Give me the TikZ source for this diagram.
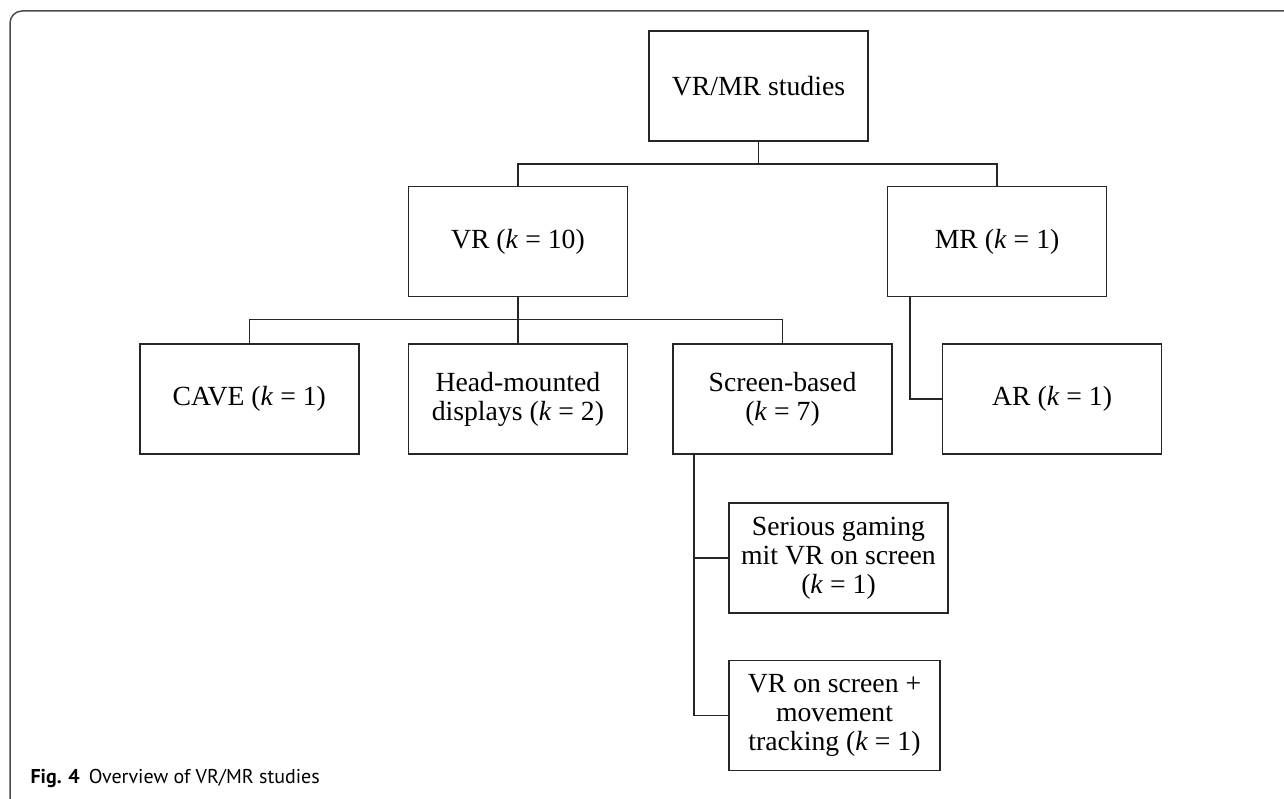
\documentclass[tikz,border=0pt]{standalone}
\usepackage{fontspec}
\setmainfont{Liberation Serif}
\newfontfamily\captionsans{PT Sans}
\usetikzlibrary{positioning, calc}

\begin{document}
\begin{tikzpicture}[
            x=1pt,
            y=1pt,
            node distance=46pt and 46pt,
            category/.style={
				rectangle,
				minimum width=219pt,
				minimum height=110pt,
				inner sep=4pt,
				align=center,
				draw=black!85,
				line width=1.6pt,
				font=\fontsize{27.7pt}{29pt}\selectfont
			},
            line/.style={
				draw=black!85,
				line width=1.6pt
			},
            figframe/.style={
				draw=black!70,
				line width=1.5pt,
				rounded corners=12pt
			}
        ]

        \useasboundingbox (0,0) rectangle (1284,-799);
        \draw [figframe] (10,-799) |- (1284,-11);

        \node (studies) [category] at (758.5,-86) {VR/MR studies};
        \node (vr) [category, below left=44pt and 20pt of studies] {VR (\textit{k} = 10)};
        \node (mr) [category, below right=44pt and 18pt of studies] {MR (\textit{k} = 1)};
        \node (head) [category, below=of vr] {Head-mounted\\displays (\textit{k} = 2)};
        \node (cave) [category, left=48pt of head] {CAVE (\textit{k} = 1)};
        \node (screen) [category, right=44pt of head] {Screen-based\\(\textit{k} = 7)};
        \node (ar) [category, right=49pt of screen] {AR (\textit{k} = 1)};
        \node (gaming) [category, below right=47pt and 56pt of screen.south west] {Serious gaming\\mit VR on screen\\(\textit{k} = 1)};
        \node (tracking) [category, minimum width=211pt, below right=46pt and 0pt of gaming.south west] {VR on screen +\\movement\\tracking (\textit{k} = 1)};

        \node (caption) [anchor=base west, font=\captionsans\fontsize{20pt}{23pt}\selectfont] at (27,-783) {\textbf{Fig. 4}\hspace{9pt}Overview of VR/MR studies};

        \coordinate (topBus) at ($(studies.south)+(0,-22pt)$);
        \coordinate (vrBus) at ($(vr.south)+(0,-22pt)$);

        \draw [line] (studies.south) -- (topBus);
        \draw [line] (vr.north) |- (topBus) -| (mr.north);
        \draw [line] (vr.south) -- (head.north);
        \draw [line] (cave.north) |- (vrBus) -| (screen.north);
        \draw [line] ([xshift=23pt]mr.south west) |- (ar.west);
        \draw [line] ([xshift=22pt]screen.south west) |- (gaming.west);
        \draw [line] ([xshift=22pt]screen.south west) |- (tracking.west);

        \end{tikzpicture}
\end{document}
